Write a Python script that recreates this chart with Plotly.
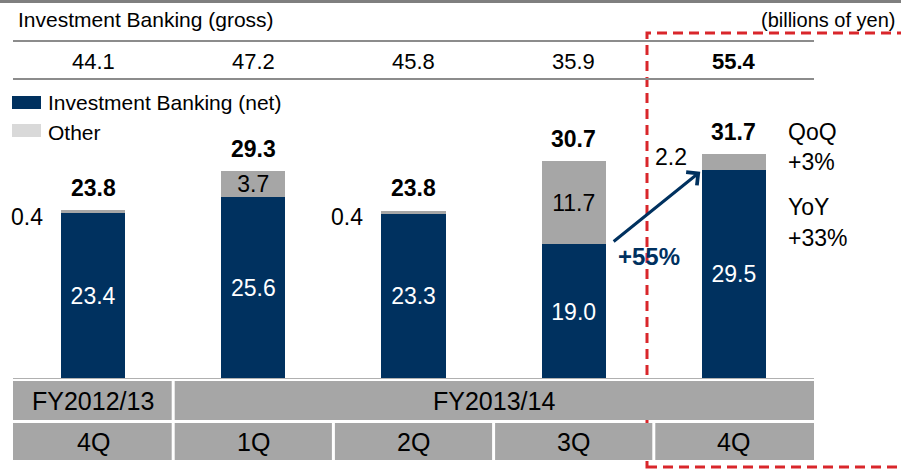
import plotly.graph_objects as go

# data (billions of yen)
quarters = ["4Q", "1Q", "2Q", "3Q", "4Q"]
fiscal_years = ["FY2012/13", "FY2013/14"]
fy_first_col = [0, 1]
fy_last_col = [0, 4]
gross = [44.1, 47.2, 45.8, 35.9, 55.4]
net = [23.4, 25.6, 23.3, 19.0, 29.5]
other = [0.4, 3.7, 0.4, 11.7, 2.2]
totals = [23.8, 29.3, 23.8, 30.7, 31.7]
qoq = "+3%"
yoy = "+33%"
growth_3q_4q = "+55%"

NAVY = "#00315f"
GRAY = "#a6a6a6"
LIGHT = "#d9d9d9"
RED = "#d9262b"
FONT = "Liberation Sans, Arial, sans-serif"

W, H = 901, 471
L, R, T, B = 13, 87, 0, 92
PLOT_H = H - T - B


def px_x(X):
    return (X - L) / (W - L - R)


def px_y(Y):
    return (H - B - Y) / PLOT_H


x = list(range(len(quarters)))
BAR_W = 0.4

fig = go.Figure()
fig.add_trace(go.Bar(
    x=x, y=net, width=BAR_W, marker=dict(color=NAVY, line=dict(width=0)),
    text=[f"{v:.1f}" for v in net], textposition="inside",
    insidetextanchor="middle", constraintext="none",
    textfont=dict(color="white", size=23, family=FONT),
    name="Investment Banking (net)", showlegend=False,
))
fig.add_trace(go.Bar(
    x=x, y=other, width=BAR_W, marker=dict(color=GRAY, line=dict(width=0)),
    text=[f"{v:.1f}" if v > 3 else "" for v in other], textposition="inside",
    insidetextanchor="middle", constraintext="none",
    textfont=dict(color="black", size=23, family=FONT),
    name="Other", showlegend=False,
))

ann = []
shapes = []

# red dashed highlight box (drawn first so the table sits over it)
shapes.append(dict(type="rect", xref="paper", yref="paper",
                   x0=px_x(647), x1=px_x(912), y0=px_y(467), y1=px_y(33),
                   line=dict(color=RED, width=3, dash="10px,6px"),
                   fillcolor="rgba(0,0,0,0)"))

# top border and header lines
shapes.append(dict(type="line", xref="paper", yref="paper",
                   x0=px_x(0), x1=px_x(W), y0=px_y(1.5), y1=px_y(1.5),
                   line=dict(color="#7f7f7f", width=3)))
for yy in (41, 79):
    shapes.append(dict(type="line", xref="paper", yref="paper",
                       x0=0, x1=1, y0=px_y(yy), y1=px_y(yy),
                       line=dict(color="#8c8c8c", width=2)))
# baseline
shapes.append(dict(type="line", xref="paper", yref="y", x0=0, x1=1, y0=0, y1=0,
                   line=dict(color="#b0b0b0", width=2)))

ann.append(dict(text="Investment Banking (gross)", xref="paper", yref="paper",
                x=px_x(16), y=px_y(19), xanchor="left", yanchor="middle",
                showarrow=False, font=dict(size=21, color="black")))
ann.append(dict(text="(billions of yen)", xref="paper", yref="paper",
                x=px_x(898), y=px_y(20), xanchor="right", yanchor="middle",
                showarrow=False, font=dict(size=20, color="black")))

# gross row
for i, v in enumerate(gross):
    txt = f"<b>{v:.1f}</b>" if i == len(gross) - 1 else f"{v:.1f}"
    ann.append(dict(text=txt, xref="x", yref="paper", x=i, y=px_y(62),
                    yanchor="middle", showarrow=False,
                    font=dict(size=22, color="black")))

# legend
for (y0, y1, col, label, ty) in [(96, 109, NAVY, "Investment Banking (net)", 103),
                                 (124, 137, LIGHT, "Other", 132)]:
    shapes.append(dict(type="rect", xref="paper", yref="paper",
                       x0=px_x(12), x1=px_x(41), y0=px_y(y1), y1=px_y(y0),
                       fillcolor=col, line=dict(width=0)))
    ann.append(dict(text=label, xref="paper", yref="paper", x=px_x(46), y=px_y(ty),
                    xanchor="left", yanchor="middle", showarrow=False,
                    font=dict(size=21, color="black")))

# totals above bars
for i, t in enumerate(totals):
    ann.append(dict(text=f"<b>{t:.1f}</b>", x=i, y=t, xref="x", yref="y",
                    yanchor="middle", yshift=22, showarrow=False,
                    font=dict(size=23, color="black")))

# small "other" values left of the bar
for i, v in enumerate(other):
    if v <= 3:
        ann.append(dict(text=f"{v:.1f}", x=i - BAR_W / 2, y=totals[i], xref="x", yref="y",
                        xanchor="right", yanchor="middle",
                        xshift=-16 if i < 4 else -13, yshift=-7 if i < 4 else -3,
                        showarrow=False, font=dict(size=23, color="black")))

# growth arrow 3Q -> 4Q (net)
ann.append(dict(x=4 - BAR_W / 2 - 0.01, y=net[4] - 0.3, xref="x", yref="y",
                ax=3 + BAR_W / 2 + 0.04, ay=net[3] + 0.2, axref="x", ayref="y",
                showarrow=True, arrowhead=4, arrowsize=1.1, arrowwidth=3,
                arrowcolor=NAVY, text=""))
ann.append(dict(text=f"<b>{growth_3q_4q}</b>", x=3 + BAR_W / 2, y=net[3], xref="x", yref="y",
                xanchor="left", yanchor="middle", xshift=10, yshift=-12,
                showarrow=False, font=dict(size=24, color=NAVY)))

# QoQ / YoY
for txt, yy in [("QoQ", 132), (qoq, 162), ("YoY", 207), (yoy, 238)]:
    ann.append(dict(text=txt, xref="paper", yref="paper", x=px_x(786), y=px_y(yy),
                    xanchor="left", yanchor="middle", showarrow=False,
                    font=dict(size=23, color="black")))

# period table
gap = 1.5 / ((W - L - R) / len(quarters))
for fy, c0, c1 in zip(fiscal_years, fy_first_col, fy_last_col):
    shapes.append(dict(type="rect", xref="x", yref="paper",
                       x0=c0 - 0.5 + (gap if c0 > 0 else 0), x1=c1 + 0.5 - (gap if c1 < 4 else 0),
                       y0=px_y(420), y1=px_y(381), fillcolor=GRAY, line=dict(width=0)))
    ann.append(dict(text=fy, xref="x", yref="paper", x=(c0 + c1) / 2, y=px_y(401),
                    yanchor="middle", showarrow=False, font=dict(size=25, color="black")))
for i, q in enumerate(quarters):
    shapes.append(dict(type="rect", xref="x", yref="paper",
                       x0=i - 0.5 + (gap if i > 0 else 0), x1=i + 0.5 - (gap if i < 4 else 0),
                       y0=px_y(460), y1=px_y(423), fillcolor=GRAY, line=dict(width=0)))
    ann.append(dict(text=q, xref="x", yref="paper", x=i, y=px_y(442),
                    yanchor="middle", showarrow=False, font=dict(size=25, color="black")))

fig.update_layout(
    barmode="stack",
    width=W, height=H,
    margin=dict(l=L, r=R, t=T, b=B),
    paper_bgcolor="white", plot_bgcolor="white",
    font=dict(family=FONT, color="black"),
    xaxis=dict(visible=False, range=[-0.5, 4.5]),
    yaxis=dict(visible=False, range=[0, PLOT_H / 7.1]),
    shapes=shapes, annotations=ann,
    showlegend=False,
)

# drop the browser's default body margin so the figure fills the window
fig.write_html("out.html", config={"displayModeBar": False},
               post_script="document.body.style.margin = '0';")
